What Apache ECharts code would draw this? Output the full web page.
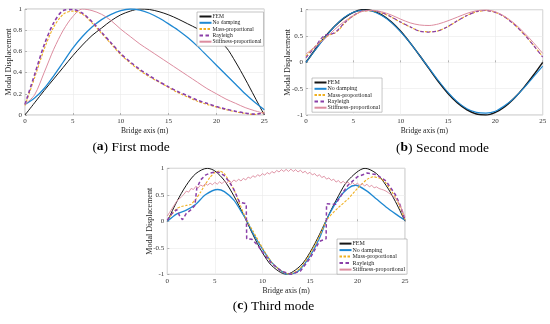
<!DOCTYPE html>
<html><head><meta charset="utf-8">
<script src="https://cdn.jsdelivr.net/npm/echarts@6/dist/echarts.min.js"></script>
<style>html,body{margin:0;padding:0;background:#fff}#c{width:550px;height:324px}</style>
</head><body><div id="c"></div>
<script>
// ---------- data ----------
const names = ['FEM', 'No damping', 'Mass-proportional', 'Rayleigh', 'Stiffness-proportional'];
const xTicksA = [0, 5, 10, 15, 20, 25];

// (a) First mode
const xA = [0,1,2,3,4,5,6,7,8,9,10,11,12,13,14,15,16,17,18,19,20,21,22,23,24,25];
const femA = [0,0.115,0.23,0.34,0.45,0.56,0.66,0.75,0.82,0.89,0.945,0.98,1.0,0.995,0.975,0.945,0.905,0.86,0.815,0.765,0.71,0.64,0.50,0.34,0.17,0];
const noDampA = [0.10,0.16,0.25,0.37,0.50,0.63,0.74,0.83,0.90,0.95,0.985,1.0,0.99,0.96,0.915,0.86,0.80,0.73,0.65,0.56,0.47,0.38,0.29,0.20,0.12,0.05];
const massA = [0.09,0.35,0.62,0.83,0.95,0.98,0.95,0.87,0.77,0.67,0.57,0.49,0.42,0.36,0.31,0.26,0.21,0.17,0.13,0.10,0.075,0.05,0.03,0.015,0.005,0.025];
const rayA = [0.10,0.38,0.66,0.87,0.985,0.995,0.96,0.88,0.78,0.68,0.58,0.50,0.43,0.37,0.315,0.265,0.22,0.18,0.14,0.11,0.08,0.055,0.035,0.018,0.008,0.02];
const stiffA = [0.10,0.19,0.40,0.62,0.80,0.93,1.0,0.985,0.95,0.89,0.81,0.74,0.67,0.61,0.55,0.49,0.43,0.37,0.31,0.25,0.20,0.15,0.11,0.07,0.04,0.015];

// (b) Second mode
const xB = [0,1,2,3,4,5,6,7,8,9,10,11,12,13,14,15,16,17,18,19,20,21,22,23,24,25];
const femB = [0,0.25,0.48,0.68,0.84,0.95,1.0,0.98,0.90,0.77,0.59,0.37,0.13,-0.12,-0.37,-0.59,-0.77,-0.90,-0.98,-1.0,-0.95,-0.84,-0.68,-0.48,-0.25,0];
const noDampB = [0,0.24,0.47,0.68,0.85,0.95,0.99,0.97,0.89,0.76,0.58,0.37,0.13,-0.11,-0.35,-0.57,-0.75,-0.88,-0.95,-0.965,-0.93,-0.82,-0.68,-0.49,-0.28,-0.07];
const xB2 = [0,1,1.5,2,2.5,3,3.5,4,5,6,7,8,9,10,11,12,13,14,15,16,17,18,19,20,21,22,23,24,25];
const massB = [0.12,0.31,0.40,0.47,0.52,0.55,0.62,0.73,0.88,0.975,0.98,0.94,0.86,0.76,0.67,0.595,0.58,0.60,0.68,0.79,0.89,0.96,0.985,0.95,0.86,0.72,0.54,0.33,0.11];
const rayB = [0.09,0.30,0.43,0.52,0.53,0.56,0.64,0.74,0.89,0.98,0.985,0.945,0.865,0.765,0.675,0.59,0.575,0.60,0.68,0.79,0.89,0.965,0.985,0.95,0.86,0.72,0.54,0.33,0.10];
const stiffB = [0.16,0.30,0.45,0.62,0.77,0.89,0.97,0.99,0.96,0.90,0.82,0.75,0.71,0.70,0.73,0.79,0.86,0.93,0.98,0.995,0.96,0.87,0.74,0.57,0.38,0.17];

// (c) Third mode
const xFemC = [0,1,2,3,4.2,5,6,7,8,9,10,11,12.5,14,15,16,17,18,19,20.8,22,23,24,25];
const femC = [0,0.37,0.68,0.90,1.0,0.95,0.77,0.48,0.13,-0.25,-0.59,-0.84,-1.0,-0.84,-0.59,-0.25,0.13,0.48,0.77,1.0,0.90,0.68,0.37,0];
const xNoDampC = [0,1,2,3,4,5.3,6,7,8,8.4,9,10,11,12,12.7,13.5,14,15,16,16.7,17,18,19,19.8,21,22,23,24,25];
const noDampC = [0,0.14,0.21,0.32,0.50,0.60,0.56,0.40,0.12,0,-0.22,-0.52,-0.78,-0.94,-1.0,-0.97,-0.90,-0.66,-0.32,0,0.12,0.43,0.62,0.68,0.57,0.42,0.27,0.14,0.02];
const xMassC = [0,0.5,1,1.5,2,2.5,3,3.5,4,4.5,5,5.5,6,7,8,8.4,9,10,11,12,12.9,14,15,16,16.7,17,18,19,20,21,21.7,22.5,23,24,24.5,25];
const massC = [0.02,0.14,0.24,0.28,0.30,0.32,0.42,0.55,0.70,0.83,0.92,0.95,0.90,0.60,0.16,0,-0.18,-0.50,-0.78,-0.94,-1.0,-0.88,-0.62,-0.28,0,0.08,0.26,0.42,0.62,0.79,0.84,0.80,0.72,0.45,0.25,0.03];
const xRayC = [0,0.5,1,1.3,1.6,2,2.5,2.9,3.1,3.5,4,4.5,5,5.5,6,6.5,7,7.6,8.3,8.35,8.9,9.5,10,11,12,13,14,15,16,16.7,16.75,17.7,18.5,19,20,21,22,23,24,24.5,25];
const rayC = [0.02,0.15,0.22,0.10,0.03,0.15,0.22,0.30,0.62,0.78,0.87,0.91,0.93,0.92,0.86,0.75,0.60,0.36,0.33,-0.33,-0.34,-0.45,-0.58,-0.80,-0.94,-1.0,-0.94,-0.70,-0.38,-0.33,0.33,0.32,0.55,0.68,0.84,0.91,0.88,0.76,0.50,0.30,0.03];
const xStiffC = [0,0.25,0.5,0.75,1,1.25,1.5,1.75,2,2.25,2.5,2.75,3,3.25,3.5,3.75,4,4.25,4.5,4.75,5,5.25,5.5,5.75,6,6.25,6.5,6.75,7,7.25,7.5,7.75,8,8.25,8.5,8.75,9,9.25,9.5,9.75,10,10.25,10.5,10.75,11,11.25,11.5,11.75,12,12.25,12.5,12.75,13,13.25,13.5,13.75,14,14.25,14.5,14.75,15,15.25,15.5,15.75,16,16.25,16.5,16.75,17,17.25,17.5,17.75,18,18.25,18.5,18.75,19,19.25,19.5,19.75,20,20.25,20.5,20.75,21,21.25,21.5,21.75,22,22.25,22.5,22.75,23,23.25,23.5,23.75,24,24.25,24.5,24.75,25];
const stiffC = [0.10,0.17,0.24,0.31, 0.38,0.42,0.465,0.51, 0.57,0.55,0.62,0.60, 0.66,0.63,0.685,0.66, 0.71,0.68,0.72,0.69, 0.735,0.70,0.745,0.71, 0.755,0.72,0.77,0.73, 0.78,0.75,0.795,0.76, 0.81,0.78,0.835,0.81, 0.86,0.83,0.88,0.85, 0.90,0.87,0.92,0.89, 0.94,0.91,0.96,0.93, 0.975,0.94,0.98,0.94, 0.985,0.94,0.975,0.93, 0.965,0.915,0.945,0.895, 0.925,0.875,0.90,0.85, 0.88,0.825,0.85,0.795, 0.82,0.77,0.795,0.74, 0.77,0.72,0.755,0.71, 0.74,0.695,0.73,0.685, 0.72,0.675,0.71,0.665, 0.70,0.65,0.68,0.63, 0.65,0.62,0.605,0.59, 0.57,0.54,0.505,0.47, 0.44,0.38,0.30,0.19, 0.08];

const captions = [['a', ' First mode'], ['b', ' Second mode'], ['c', ' Third mode']];

// ---------- chart ----------
const FONT = 'Liberation Serif';
const C = { fem: '#151515', nd: '#1f88d2', mass: '#f0b020', ray: '#8a3fa8', stiff: '#dc8c9f' };
const zip = (xs, ys) => xs.map((x, i) => [x, ys[i]]);

const grids = [
  { left: 25, top: 9, width: 239.3, height: 106 },
  { left: 306, top: 9.7, width: 236.7, height: 105.3 },
  { left: 167.3, top: 168.3, width: 237.7, height: 106 }
].map(g => Object.assign(g, { show: true, borderColor: '#a8a8a8', borderWidth: 0.7, outerBoundsMode: 'none', containLabel: false }));

function xAx(gi) {
  return { type: 'value', gridIndex: gi, min: xTicksA[0], max: xTicksA[xTicksA.length - 1], interval: 5,
    name: 'Bridge axis (m)', nameLocation: 'middle', nameGap: 12.5,
    nameTextStyle: { fontFamily: FONT, fontSize: 7.5, color: '#222' },
    axisLine: { show: false },
    axisTick: { show: true, inside: true, length: 2, lineStyle: { color: '#888', width: 0.6 } },
    axisLabel: { fontFamily: FONT, fontSize: 7, color: '#333', margin: 3 },
    splitLine: { show: true, lineStyle: { color: '#e9e9e9', width: 0.6 } } };
}
function yAx(gi, min, max, interval, gap) {
  return { type: 'value', gridIndex: gi, min, max, interval,
    name: 'Modal Displacement', nameLocation: 'middle', nameGap: gap, nameMoveOverlap: false,
    nameTextStyle: { fontFamily: FONT, fontSize: 8, color: '#222' },
    axisLine: { show: false },
    axisTick: { show: true, inside: true, length: 2, lineStyle: { color: '#888', width: 0.6 } },
    axisLabel: { fontFamily: FONT, fontSize: 7, color: '#333', margin: 3 },
    splitLine: { show: true, lineStyle: { color: '#e9e9e9', width: 0.6 } } };
}

function ser(name, gi, data, color, width, type, smooth) {
  return { name, type: 'line', xAxisIndex: gi, yAxisIndex: gi, data, symbol: 'none', showSymbol: false,
    smooth: smooth, animation: false, silent: true,
    lineStyle: { color, width, type }, itemStyle: { color }, z: 2 };
}

const series = [
  ser(names[0], 0, zip(xA, femA), C.fem, 1, 'solid', 0.3),
  ser(names[1], 0, zip(xA, noDampA), C.nd, 1.3, 'solid', 0.3),
  ser(names[2], 0, zip(xA, massA), C.mass, 1.1, [2.5, 1.5], 0.3),
  ser(names[3], 0, zip(xA, rayA), C.ray, 1.6, [3.5, 2.5], 0.3),
  ser(names[4], 0, zip(xA, stiffA), C.stiff, 1, 'solid', 0.3),

  ser(names[0], 1, zip(xB, femB), C.fem, 1.5, 'solid', 0.3),
  ser(names[1], 1, zip(xB, noDampB), C.nd, 1.1, 'solid', 0.3),
  ser(names[2], 1, zip(xB2, massB), C.mass, 1.1, [2.5, 1.5], 0.25),
  ser(names[3], 1, zip(xB2, rayB), C.ray, 1.2, [3.5, 2.5], 0.25),
  ser(names[4], 1, zip(xB, stiffB), C.stiff, 1, 'solid', 0.3),

  ser(names[0], 2, zip(xFemC, femC), C.fem, 1, 'solid', 0.3),
  ser(names[1], 2, zip(xNoDampC, noDampC), C.nd, 1.3, 'solid', 0.25),
  ser(names[2], 2, zip(xMassC, massC), C.mass, 1.1, [2.5, 1.5], 0.2),
  ser(names[3], 2, zip(xRayC, rayC), C.ray, 1.5, [3.5, 2.5], false),
  ser(names[4], 2, zip(xStiffC, stiffC), C.stiff, 0.9, 'solid', false)
];

function leg(left, top, fs, lh) {
  return { data: names, orient: 'vertical', left, top, itemWidth: 12, itemHeight: lh, itemGap: 0.3,
    padding: [1.5, 2, 1.5, 1.5], backgroundColor: '#fff', borderColor: '#a0a0a0', borderWidth: 0.6,
    selectedMode: false, itemStyle: { opacity: 0 },
    textStyle: { fontFamily: FONT, fontSize: fs, lineHeight: lh, color: '#222', padding: [0, 0, 0, -4] } };
}

const richCap = {
  p: { fontFamily: FONT, fontSize: 13.5, color: '#111' },
  b: { fontFamily: FONT, fontSize: 13.5, fontWeight: 'bold', color: '#111' }
};
const graphic = [
  [131, 147], [442.5, 148], [273.5, 306]
].map((p, i) => ({ type: 'text', x: p[0], y: p[1], silent: true,
  style: { text: '{p|(}{b|' + captions[i][0] + '}{p|)' + captions[i][1] + '}', align: 'center', verticalAlign: 'middle',
    rich: richCap } }));

const chart = echarts.init(document.getElementById('c'), null, { renderer: 'canvas' });
chart.setOption({
  animation: false,
  backgroundColor: '#fff',
  grid: grids,
  xAxis: [xAx(0), xAx(1), xAx(2)],
  yAxis: [yAx(0, 0, 1, 0.2, 12), yAx(1, -1, 1, 0.5, 14), yAx(2, -1, 1, 0.5, 13.8)],
  legend: [leg(197, 12, 5.6, 5.8), leg(312, 78, 6, 6), leg(337, 239, 6, 6.2)],
  series,
  graphic
});
</script>
</body></html>
